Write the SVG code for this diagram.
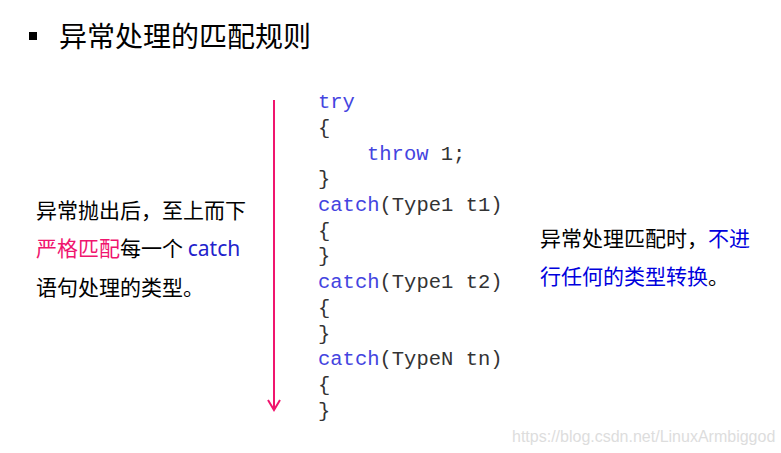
<svg xmlns="http://www.w3.org/2000/svg" width="781" height="453" viewBox="0 0 781 453">
<style>
.cn{font-family:"Noto Sans CJK SC","Noto Sans",sans-serif;font-size:21px;fill:#000}
.code{font-family:"Liberation Mono",monospace;font-size:20.5px;fill:#333}
.kw{fill:#4444e0}
</style>
<rect width="781" height="453" fill="#fff"/>
<g id="title">
<rect x="29" y="32" width="8" height="8" fill="#000"/>
<text x="59" y="47" class="cn" style="font-size:28px">异常处理的匹配规则</text>
</g>
<g id="connectors">
<line x1="274" y1="100" x2="274" y2="409" stroke="#f0156e" stroke-width="2"/>
<polyline points="268,400 274,410 280,400" fill="none" stroke="#f0156e" stroke-width="2"/>
</g>
<g id="left-note">
<text x="36" y="218" class="cn">异常抛出后，至上而下</text>
<text x="36" y="256" class="cn"><tspan fill="#f0156e">严格匹配</tspan>每一个 <tspan fill="#2222cc" font-family="Noto Sans,sans-serif">catch</tspan></text>
<text x="36" y="295" class="cn">语句处理的类型。</text>
</g>
<g id="right-note">
<text x="540" y="246" class="cn">异常处理匹配时，<tspan fill="#0000dd">不进</tspan></text>
<text x="540" y="284" class="cn"><tspan fill="#0000dd">行任何的类型转换</tspan>。</text>
</g>
<g id="code" class="code">
<text x="318" y="108" class="kw">try</text>
<text x="318" y="134">{</text>
<text x="367" y="160"><tspan class="kw">throw</tspan> 1;</text>
<text x="318" y="185">}</text>
<text x="318" y="211"><tspan class="kw">catch</tspan>(Type1 t1)</text>
<text x="318" y="237">{</text>
<text x="318" y="262">}</text>
<text x="318" y="288"><tspan class="kw">catch</tspan>(Type1 t2)</text>
<text x="318" y="314">{</text>
<text x="318" y="340">}</text>
<text x="318" y="365"><tspan class="kw">catch</tspan>(TypeN tn)</text>
<text x="318" y="391">{</text>
<text x="318" y="417">}</text>
</g>
<text x="512" y="442" style="font-family:'Liberation Sans',sans-serif;font-size:16px;fill:#ddd">https://blog.csdn.net/LinuxArmbiggod</text>
</svg>
